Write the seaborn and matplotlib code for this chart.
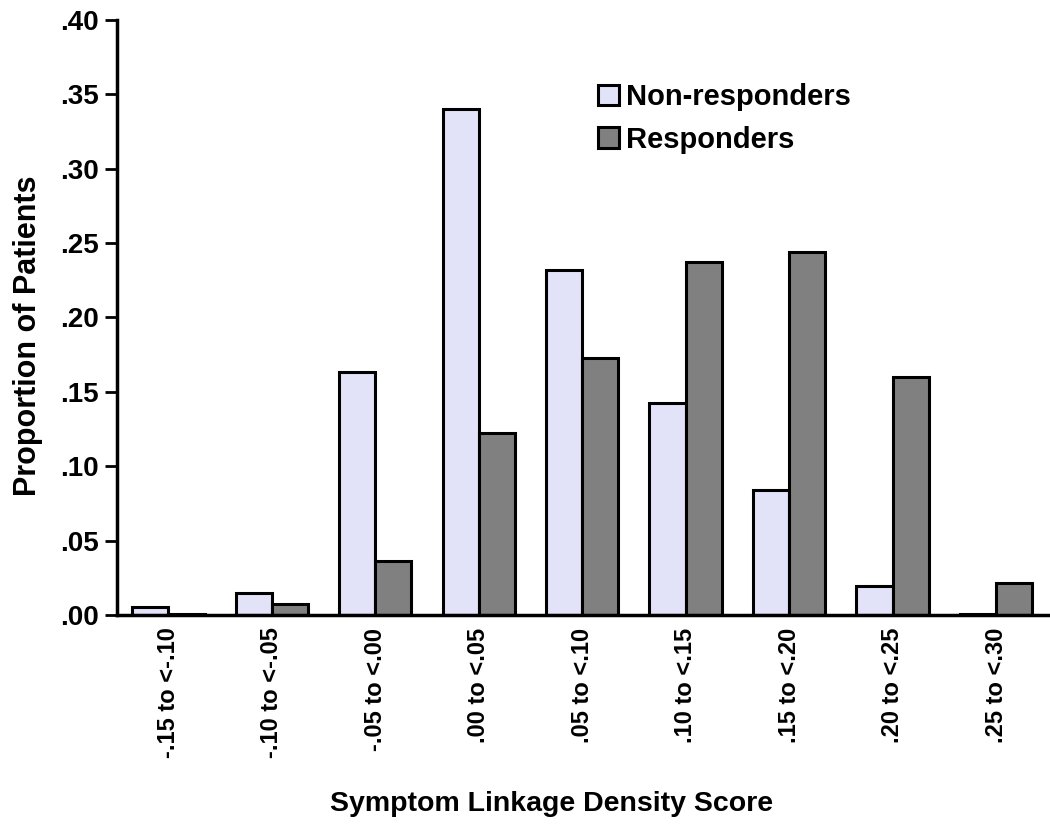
import pandas as pd
import numpy as np
import matplotlib.pyplot as plt
import seaborn as sns

categories = ['-.15 to <-.10', '-.10 to <-.05', '-.05 to <.00', '.00 to <.05',
              '.05 to <.10', '.10 to <.15', '.15 to <.20', '.20 to <.25', '.25 to <.30']
non_responders = [0.0055, 0.015, 0.163, 0.340, 0.232, 0.1425, 0.084, 0.0195, 0.001]
responders = [0.001, 0.0075, 0.036, 0.122, 0.173, 0.237, 0.244, 0.160, 0.0215]
groups = ['Non-responders', 'Responders']
colors = ['#E2E2F8', '#808080']
yticks = [0.0, 0.05, 0.10, 0.15, 0.20, 0.25, 0.30, 0.35, 0.40]
ytick_labels = ['.00', '.05', '.10', '.15', '.20', '.25', '.30', '.35', '.40']

df = pd.DataFrame({
    'Score': categories * 2,
    'Proportion': non_responders + responders,
    'Group': [groups[0]] * len(categories) + [groups[1]] * len(categories),
})

sns.set_theme(style="white")
plt.rcParams['font.family'] = ['Liberation Sans', 'DejaVu Sans']
plt.rcParams['font.weight'] = 'bold'
plt.rcParams['text.color'] = 'black'
plt.rcParams['axes.labelcolor'] = 'black'
plt.rcParams['xtick.color'] = 'black'
plt.rcParams['ytick.color'] = 'black'

fig = plt.figure(figsize=(10.5, 8.25), dpi=100)
ax = fig.add_axes([0.111, 0.2545, 0.887, 0.7215])

sns.barplot(data=df, x='Score', y='Proportion', hue='Group', order=categories,
            hue_order=groups, palette=colors, width=0.7, edgecolor='black',
            linewidth=2.2, saturation=1, ax=ax)

ax.set_xlim(-0.5, len(categories) - 0.5)
ax.set_ylim(0, 0.40)
ax.set_yticks(yticks)
ax.set_yticklabels(ytick_labels, fontsize=20, fontweight='bold')
ax.set_xticks(range(len(categories)))
ax.set_xticklabels(categories, rotation=90, fontsize=17, fontweight='bold')
ax.tick_params(axis='y', direction='out', length=9, width=2, color='black', left=True, pad=4)
ax.tick_params(axis='x', length=0, pad=9)

for side in ['top', 'right']:
    ax.spines[side].set_visible(False)
for side in ['left', 'bottom']:
    ax.spines[side].set_linewidth(2.5)
    ax.spines[side].set_color('black')

ax.set_ylabel('Proportion of Patients', fontsize=22, fontweight='bold')
ax.yaxis.set_label_coords(-0.079, 0.47)
ax.set_xlabel('Symptom Linkage Density Score', fontsize=20.5, fontweight='bold')
ax.xaxis.set_label_coords(0.467, -0.295)

ax.legend(loc='upper left', bbox_to_anchor=(0.489, 0.938), frameon=False,
          handlelength=0.7, handleheight=0.7, handletextpad=0.25,
          labelspacing=0.5, prop={'weight': 'bold', 'size': 21})

fig.savefig('out.png', dpi=100)
